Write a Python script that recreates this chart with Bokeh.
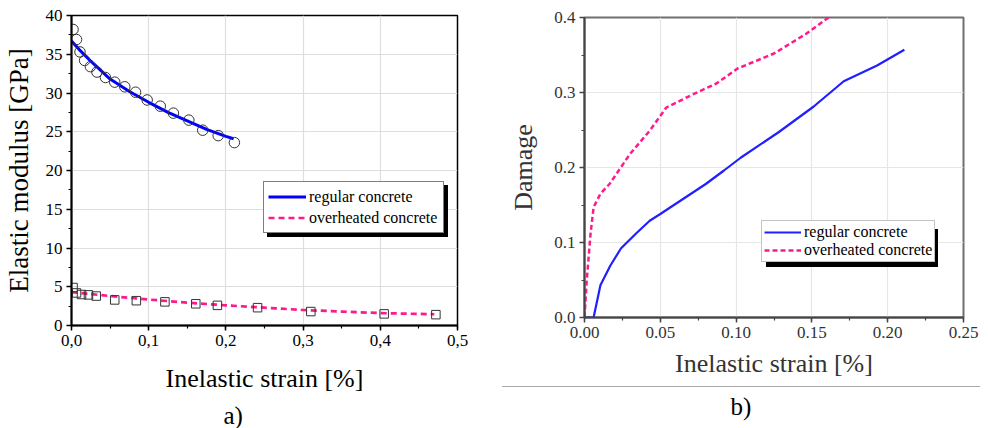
from bokeh.plotting import figure
from bokeh.models import (Legend, LegendItem, Title, Div, SingleIntervalTicker,
                          CustomJSTickFormatter, NumeralTickFormatter)
from bokeh.layouts import row, column
from bokeh.embed import file_html
from bokeh.resources import INLINE

FONT = "Liberation Serif"
BLUE = "#0000ff"
PINK = "#ff1a8c"

# ---------------- panel a) data ----------------
reg_x = [0.002, 0.0065, 0.011, 0.017, 0.0245, 0.033, 0.044, 0.056, 0.069, 0.083,
         0.098, 0.115, 0.132, 0.152, 0.170, 0.190, 0.211]
reg_y = [38.2, 36.9, 35.3, 34.2, 33.4, 32.7, 32.0, 31.4, 30.8, 30.1,
         29.1, 28.3, 27.4, 26.5, 25.2, 24.5, 23.6]
reg_fit_x = [0.0, 0.01, 0.025, 0.05, 0.075, 0.1, 0.125, 0.15, 0.175, 0.2, 0.21]
reg_fit_y = [36.7, 35.6, 34.1, 31.8, 30.2, 28.8, 27.5, 26.4, 25.3, 24.4, 24.1]

ovh_x = [0.002, 0.0065, 0.013, 0.022, 0.032, 0.056, 0.084, 0.121, 0.161, 0.189,
         0.241, 0.310, 0.405, 0.472]
ovh_y = [4.9, 4.2, 4.0, 3.95, 3.8, 3.3, 3.2, 3.05, 2.8, 2.6, 2.3, 1.8, 1.5, 1.4]
ovh_fit_x = [0.0, 0.05, 0.1, 0.15, 0.2, 0.25, 0.3, 0.35, 0.4, 0.47]
ovh_fit_y = [4.3, 3.8, 3.35, 2.95, 2.6, 2.3, 2.0, 1.8, 1.6, 1.45]

# ---------------- panel b) data ----------------
dmg_reg_x = [0.0, 0.006, 0.0105, 0.017, 0.024, 0.034, 0.043, 0.05, 0.065, 0.08,
             0.092, 0.103, 0.128, 0.151, 0.171, 0.193, 0.211]
dmg_reg_y = [0.0, 0.0, 0.043, 0.069, 0.092, 0.112, 0.129, 0.138, 0.158, 0.178,
             0.196, 0.213, 0.247, 0.281, 0.315, 0.336, 0.357]
dmg_ovh_x = [0.0, 0.0015, 0.004, 0.006, 0.0105, 0.0165, 0.0226, 0.030, 0.043, 0.054,
             0.070, 0.087, 0.101, 0.125, 0.146, 0.161]
dmg_ovh_y = [0.0, 0.05, 0.112, 0.147, 0.165, 0.178, 0.196, 0.218, 0.249, 0.280,
             0.296, 0.312, 0.332, 0.352, 0.378, 0.400]

labels = ["regular concrete", "overheated concrete"]
captions = ["a)", "b)"]

# ---------------- geometry (pixels) ----------------
A_LEFT, A_FW, A_RIGHT, A_TOP, A_FH = 71, 386, 33, 15, 310
B_LEFT, B_FW, B_RIGHT, B_TOP, B_FH = 94, 379, 25, 17, 300
TOTAL_H = 428
B_H = 386


def style_axes(p, color, tick_color):
    for ax in p.axis:
        ax.axis_line_color = color
        ax.axis_line_width = 2
        ax.major_tick_line_color = color
        ax.major_tick_line_width = 1.5
        ax.minor_tick_line_color = color
        ax.minor_tick_line_width = 1.2
        ax.major_tick_in = 0
        ax.major_tick_out = 5
        ax.minor_tick_in = 0
        ax.minor_tick_out = 3
        ax.major_label_text_font = FONT
        ax.major_label_text_font_style = "normal"
        ax.major_label_text_font_size = "17px"
        ax.major_label_text_color = tick_color
        ax.major_label_standoff = 4
        ax.axis_label_text_font = FONT
        ax.axis_label_text_font_style = "normal"
        ax.axis_label_text_color = tick_color


def make_legends(p, rends, loc, shadow_off, glyph_w, label_w, label_h, pad, border):
    common = dict(label_text_font=FONT, label_text_font_style="normal",
                  label_text_font_size="16px", glyph_width=glyph_w,
                  glyph_height=label_h, label_width=label_w, label_height=label_h,
                  padding=pad, spacing=0, margin=0, label_standoff=3)
    shadow = Legend(
        items=[LegendItem(label=" ", renderers=[rends[0]]),
               LegendItem(label="  ", renderers=[rends[1]])],
        location=(loc[0] + shadow_off, loc[1] - shadow_off),
        background_fill_color="black", background_fill_alpha=1,
        border_line_color="black", **common)
    main = Legend(
        items=[LegendItem(label=labels[0], renderers=[rends[0]]),
               LegendItem(label=labels[1], renderers=[rends[1]])],
        location=loc, background_fill_color="white", background_fill_alpha=1,
        border_line_color=border, border_line_width=1, label_text_color="black",
        **common)
    p.add_layout(shadow)
    p.add_layout(main)


# ================= panel a =================
pa = figure(frame_width=A_FW, frame_height=A_FH, x_range=(0, 0.5), y_range=(0, 40),
            output_backend="svg", toolbar_location=None,
            min_border_left=A_LEFT, min_border_right=A_RIGHT, min_border_top=A_TOP,
            min_border_bottom=TOTAL_H - A_TOP - A_FH, background_fill_color="white")
pa.xaxis.ticker = SingleIntervalTicker(interval=0.1, num_minor_ticks=2)
pa.yaxis.ticker = SingleIntervalTicker(interval=5, num_minor_ticks=2)
pa.xaxis.formatter = CustomJSTickFormatter(code="return tick.toFixed(1).replace('.', ',');")
style_axes(pa, "black", "black")
pa.xaxis.axis_label = "Inelastic strain [%]"
pa.yaxis.axis_label = "Elastic modulus [GPa]"
pa.xaxis.axis_label_text_font_size = "26px"
pa.yaxis.axis_label_text_font_size = "27px"
pa.xaxis.axis_label_standoff = 15
pa.yaxis.axis_label_standoff = 9
pa.xgrid.grid_line_color = "#dedede"
pa.ygrid.grid_line_color = "#dedede"
pa.xgrid.grid_line_width = 1.2
pa.ygrid.grid_line_width = 1.2
pa.outline_line_color = "black"
pa.outline_line_width = 1.5
pa.outline_line_alpha = 1

ra1 = pa.line(reg_fit_x, reg_fit_y, line_color=BLUE, line_width=3)
ra2 = pa.line(ovh_fit_x, ovh_fit_y, line_color=PINK, line_width=2.7, line_dash="6 4")
pa.scatter(reg_x, reg_y, marker="circle", size=10.5, fill_color=None,
           line_color="#333333", line_width=1)
pa.scatter(ovh_x, ovh_y, marker="square", size=8.5, fill_color=None,
           line_color="#333333", line_width=1)
make_legends(pa, [ra1, ra2], (192, 92), 4, 38, 130, 21, 4, "black")

pa.add_layout(Title(text=captions[0], align="left", offset=152, standoff=9,
                    text_font=FONT, text_font_style="normal",
                    text_font_size="25px", text_color="black"), "below")

# ================= panel b =================
pb = figure(frame_width=B_FW, frame_height=B_FH, x_range=(0, 0.25), y_range=(0, 0.4),
            output_backend="svg", toolbar_location=None,
            min_border_left=B_LEFT, min_border_right=B_RIGHT, min_border_top=B_TOP,
            min_border_bottom=B_H - B_TOP - B_FH, background_fill_color="white")
pb.xaxis.ticker = SingleIntervalTicker(interval=0.05, num_minor_ticks=2)
pb.yaxis.ticker = SingleIntervalTicker(interval=0.1, num_minor_ticks=2)
pb.xaxis.formatter = NumeralTickFormatter(format="0.00")
pb.yaxis.formatter = NumeralTickFormatter(format="0.0")
style_axes(pb, "#444444", "#333333")
pb.xaxis.axis_label = "Inelastic strain [%]"
pb.yaxis.axis_label = "Damage"
pb.xaxis.axis_label_text_font_size = "26px"
pb.yaxis.axis_label_text_font_size = "26px"
pb.xaxis.axis_label_standoff = 8
pb.yaxis.axis_label_standoff = 13
pb.xgrid.grid_line_color = "#e6e6e6"
pb.ygrid.grid_line_color = "#e6e6e6"
pb.xgrid.grid_line_width = 1.2
pb.ygrid.grid_line_width = 1.2
pb.outline_line_color = "#6f6f6f"
pb.outline_line_width = 2
pb.outline_line_alpha = 1

rb1 = pb.line(dmg_reg_x, dmg_reg_y, line_color="#1f1fff", line_width=2.2)
rb2 = pb.line(dmg_ovh_x, dmg_ovh_y, line_color=PINK, line_width=2.5, line_dash="5 3")
make_legends(pb, [rb1, rb2], (177, 55), 5, 37, 126, 16, 2, "#888888")

cap_b = Div(
    text=('<div style="margin-left:12px;width:478px;height:40px;'
          'border-top:1.5px solid #aaaaaa;text-align:center;'
          "font-family:'Liberation Serif',serif;font-size:25px;"
          'line-height:40px;color:black;">' + captions[1] + '</div>'),
    width=498, height=TOTAL_H - B_H, margin=0)

layout = row(pa, column(pb, cap_b))
open("out.html", "w").write(file_html(layout, INLINE))
